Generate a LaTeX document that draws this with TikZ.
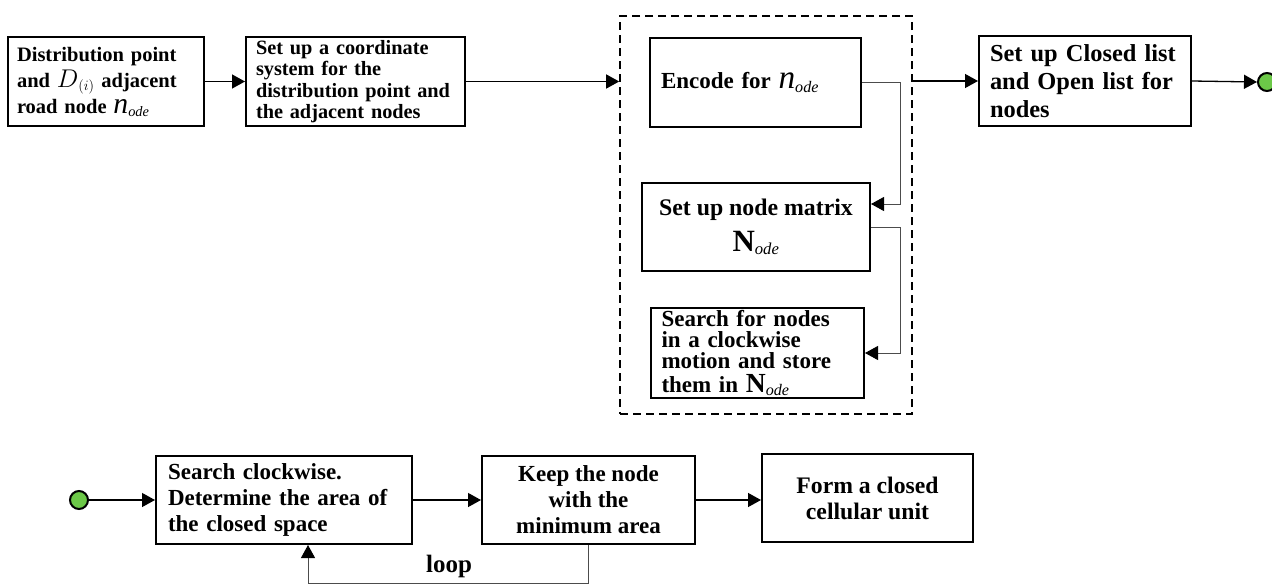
\documentclass[tikz,border=0pt]{standalone}
\usepackage{fix-cm}
\usepackage{fontspec}
\setmainfont{Liberation Serif}
\usetikzlibrary{arrows.meta}
\definecolor{dotgreen}{RGB}{108,200,72}
\newcommand\fsz[2]{\fontsize{#1}{#2}\selectfont}
\newcommand\nsub{\scalebox{1.45}{$\mathit{n}$}_{\mathit{ode}}}
\newcommand\Nsub[1][1.3]{\scalebox{#1}{$\mathbf{N}$}_{\mathit{ode}}}
\newcommand\Dsub{\scalebox{1.25}{$D$}_{(i)}}

\begin{document}
\begin{tikzpicture}[x=1pt,y=-1pt,
  box/.style={draw, line width=2pt, inner sep=0pt},
  flow/.style={line width=1.3pt, -{Triangle[length=13pt,width=14pt]}},
  link/.style={draw=black!70, line width=1pt, -{Triangle[length=13pt,width=14pt,color=black]}},
  dot/.style={circle, draw, line width=2pt, fill=dotgreen, minimum size=18pt, inner sep=0pt},
  group/.style={draw, line width=1.6pt, dash pattern=on 8pt off 5pt, inner sep=0pt},
]
\useasboundingbox (0,0) rectangle (1272,584);

% top row
\node[box, minimum width=196pt, minimum height=89pt, text width=178pt, align=left,
      font=\bfseries\fsz{20.5}{26}] (dist) at (106,81.5)
  {Distribution point\\ and $\Dsub$ adjacent\\ road node $\nsub$};
\node[box, minimum width=219pt, minimum height=89pt, text width=199pt, align=left,
      font=\bfseries\fsz{20.3}{21.5}] (coord) at (355.5,81.5)
  {Set up a coordinate\\ system for the\\ distribution point and\\ the adjacent nodes};

% dashed group of node processing steps
\node[group, minimum width=292pt, minimum height=398pt] (grp) at (766,215) {};
\node[box, minimum width=211pt, minimum height=89pt, text width=189pt, align=left,
      font=\bfseries\fsz{23}{26}] (encode) at (755.5,82.5)
  {Encode for $\nsub$};
\node[box, minimum width=228pt, minimum height=88pt, align=center,
      font=\bfseries\fsz{23.8}{26}] (nmat) at (756,227)
  {Set up node matrix\\[10pt] $\Nsub$};
\node[box, minimum width=213pt, minimum height=90pt, text width=192pt, align=left,
      font=\bfseries\fsz{23}{21}] (search) at (757.5,353)
  {Search for nodes\\ in a clockwise\\ motion and store\\[3pt] them in $\Nsub[1.2]$};

\node[box, minimum width=212pt, minimum height=90pt, text width=190pt, align=left,
      font=\bfseries\fsz{24.4}{27.7}] (lists) at (1085,81)
  {Set up Closed list\\ and Open list for\\ nodes};
\node[dot] (enddot) at (1267,82) {};

% bottom row
\node[dot] (startdot) at (79,500) {};
\node[box, minimum width=256pt, minimum height=88pt, text width=232pt, align=left,
      font=\bfseries\fsz{23}{26}] (scan) at (284,500)
  {Search clockwise.\\ Determine the area of\\ the closed space};
\node[box, minimum width=213pt, minimum height=88pt, align=center,
      font=\bfseries\fsz{23}{26}] (keep) at (588.5,500)
  {Keep the node\\ with the\\ minimum area};
\node[box, minimum width=211pt, minimum height=88pt, align=center,
      font=\bfseries\fsz{23.7}{26}] (form) at (867.5,498)
  {Form a closed\\ cellular unit};
\node[font=\bfseries\fsz{25}{26}] (looplbl) at (449,566) {loop};
\coordinate (loopbase) at (0,583);

% connectors
\draw[flow] (dist.east) -- (coord.west);
\draw[flow] (coord.east) -- (grp.west |- coord.east);
\draw[flow] (grp.east |- lists.west) -- (lists.west);
\draw[flow] (lists.east) -- (enddot.west);
\draw[link] (encode.east) -- ++(38,0) coordinate (rail) |- ([yshift=23pt]nmat.east);
\draw[link] (nmat.east) -- (rail |- nmat.east) |- (search.east);

\draw[flow] (startdot.east) -- (scan.west);
\draw[flow] (scan.east) -- (keep.west |- scan.east);
\draw[flow] (keep.east) -- (form.west |- keep.east);
\draw[link] (keep.south) -- (keep.south |- loopbase) -| ([xshift=24pt]scan.south);
\end{tikzpicture}
\end{document}
